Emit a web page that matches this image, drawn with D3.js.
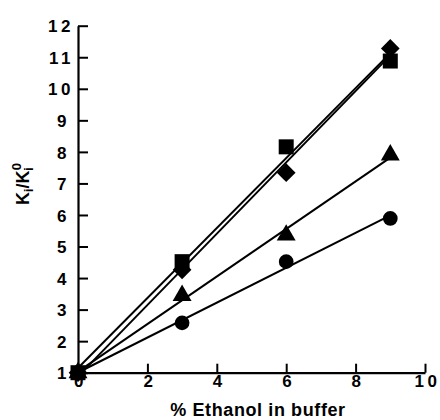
<!DOCTYPE html>
<html>
<head>
<meta charset="utf-8">
<script src="https://cdn.jsdelivr.net/npm/d3@7"></script>
<style>
  body { margin: 0; background: #fff; }
  text { font-family: "Liberation Sans", Arial, Helvetica, sans-serif; font-weight: bold; fill: #000; }
</style>
</head>
<body>
<div id="chart"></div>
<script>
// % ethanol in buffer
const ethanol = [0, 3, 6, 9];
// Ki / Ki0 for each series
const squareVals = [1, 4.52, 8.16, 10.88];
const diamondVals = [1, 4.26, 7.34, 11.28];
const triangleVals = [1, 3.45, 5.36, 7.9];
const circleVals = [1, 2.58, 4.52, 5.89];

const xTicks = [0, 2, 4, 6, 8, 10];
const yTicks = [1, 2, 3, 4, 5, 6, 7, 8, 9, 10, 11, 12];

const series = [
  { name: "square", vals: squareVals, sym: d3.symbolSquare, size: 225 },
  { name: "diamond", vals: diamondVals, sym: d3.symbolSquare, size: 175, rot: 45 },
  { name: "triangle", vals: triangleVals, sym: d3.symbolTriangle, size: 155 },
  { name: "circle", vals: circleVals, sym: d3.symbolCircle, size: 170 }
];

const width = 440, height = 420;

const svg = d3.select("#chart")
  .append("svg")
  .attr("width", width)
  .attr("height", height);

const x = d3.scaleLinear().domain([0, 10]).range([78, 425]);
const y = d3.scaleLinear().domain([1, 12]).range([372.7, 25.7]);

// ordinary least squares fit
function fit(vals) {
  const mx = d3.mean(ethanol), my = d3.mean(vals);
  let sxy = 0, sxx = 0;
  ethanol.forEach(function (e, i) {
    sxy += (e - mx) * (vals[i] - my);
    sxx += (e - mx) * (e - mx);
  });
  const k = sxy / sxx;
  return { k: k, b: my - k * mx };
}

// fit lines
series.forEach(function (s) {
  const f = fit(s.vals);
  svg.append("line")
    .attr("x1", x(0))
    .attr("y1", y(f.b))
    .attr("x2", x(9))
    .attr("y2", y(f.b + f.k * 9))
    .attr("stroke", "#000")
    .attr("stroke-width", 2);
});

// axes
const yAxis = svg.append("g")
  .attr("transform", "translate(" + x(0) + ",0)")
  .call(d3.axisLeft(y).tickValues(yTicks).tickSizeInner(-10).tickSizeOuter(0));

const xAxis = svg.append("g")
  .attr("transform", "translate(0," + y(1) + ")")
  .call(d3.axisBottom(x).tickValues(xTicks).tickSizeInner(-9).tickSizeOuter(0));

[xAxis, yAxis].forEach(function (g) {
  g.attr("font-size", 17).attr("font-family", null);
  g.select(".domain").attr("stroke", "#000").attr("stroke-width", 2.2);
  g.selectAll(".tick line").attr("stroke", "#000").attr("stroke-width", 2);
  g.selectAll(".tick text")
    .style("letter-spacing", "3.5px")
    .attr("fill", "#000");
});

yAxis.selectAll(".tick text")
  .attr("x", function (d) { return d >= 10 ? -4 : -8; })
  .attr("dy", "0.36em");

xAxis.selectAll(".tick text")
  .attr("y", 2)
  .attr("dx", 2)
  .attr("dy", "0.71em");

// markers
series.forEach(function (s) {
  svg.append("g")
    .selectAll("path")
    .data(s.vals)
    .enter()
    .append("path")
    .attr("d", d3.symbol().type(s.sym).size(s.size))
    .attr("transform", function (d, i) {
      return "translate(" + x(ethanol[i]) + "," + y(d) + ")" + (s.rot ? " rotate(" + s.rot + ")" : "");
    })
    .attr("fill", "#000");
});

// axis titles
svg.append("text")
  .attr("x", 258)
  .attr("y", 416)
  .attr("text-anchor", "middle")
  .attr("font-size", 18)
  .style("letter-spacing", "0.6px")
  .text("% Ethanol in buffer");

const yLab = svg.append("text")
  .attr("transform", "translate(29,184) rotate(-90)")
  .attr("text-anchor", "middle")
  .attr("font-size", 18);
yLab.append("tspan").text("K");
yLab.append("tspan").attr("baseline-shift", "-4").attr("font-size", 12).text("i");
yLab.append("tspan").text("/K");
yLab.append("tspan").attr("baseline-shift", "-4").attr("font-size", 12).text("i");
yLab.append("tspan").attr("baseline-shift", "8").attr("dx", -3).attr("font-size", 13).text("0");
</script>
</body>
</html>
